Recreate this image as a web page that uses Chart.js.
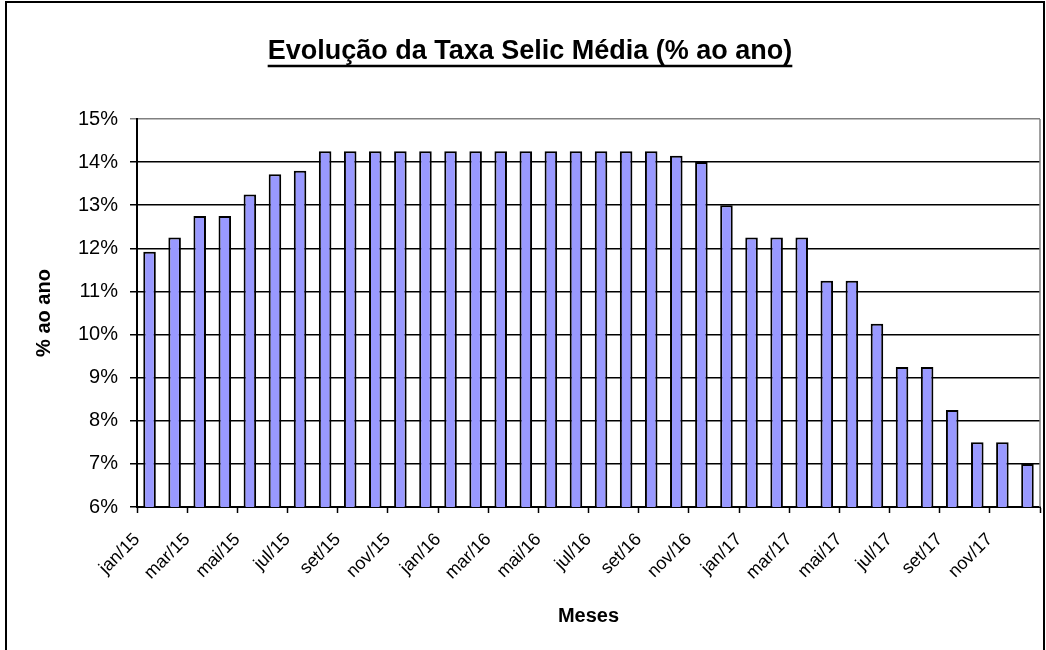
<!DOCTYPE html>
<html>
<head>
<meta charset="utf-8">
<script src="https://cdn.jsdelivr.net/npm/chart.js@4.4.1/dist/chart.umd.min.js"></script>
<style>
  html, body { margin: 0; padding: 0; background: #fff; }
  #wrap { width: 1046px; height: 650px; }
</style>
</head>
<body>
<div id="wrap"><canvas id="selicChart" width="1046" height="650"></canvas></div>
<script>
// meses (eixo x)
const categories = [
  'jan/15', 'fev/15', 'mar/15', 'abr/15', 'mai/15', 'jun/15', 'jul/15', 'ago/15', 'set/15', 'out/15', 'nov/15', 'dez/15',
  'jan/16', 'fev/16', 'mar/16', 'abr/16', 'mai/16', 'jun/16', 'jul/16', 'ago/16', 'set/16', 'out/16', 'nov/16', 'dez/16',
  'jan/17', 'fev/17', 'mar/17', 'abr/17', 'mai/17', 'jun/17', 'jul/17', 'ago/17', 'set/17', 'out/17', 'nov/17', 'dez/17'
];

// taxa selic media, % ao ano
const selic = [
  11.92, 12.25, 12.75, 12.75, 13.25, 13.72, 13.80, 14.25, 14.25, 14.25, 14.25, 14.25,
  14.25, 14.25, 14.25, 14.25, 14.25, 14.25, 14.25, 14.25, 14.25, 14.15, 14.00, 13.00,
  12.25, 12.25, 12.25, 11.25, 11.25, 10.25, 9.25, 9.25, 8.25, 7.50, 7.50, 7.00
];

const yMin = 6;
const yMax = 15;
const yStep = 1;

const titleText = 'Evolução da Taxa Selic Média (% ao ano)';
const FONT = 'Arial, "Liberation Sans", sans-serif';
const TITLE_SIZE = 27;

// fundo branco, titulo sublinhado, moldura e linha cinza da direita do grafico
const framePlugin = {
    id: 'frame',
    beforeDraw(chart) {
        const ctx = chart.ctx;
        ctx.save();
        ctx.fillStyle = '#fff';
        ctx.fillRect(0, 0, chart.width, chart.height);

        ctx.font = 'bold ' + TITLE_SIZE + 'px ' + FONT;
        ctx.fillStyle = '#000';
        ctx.textAlign = 'center';
        ctx.textBaseline = 'alphabetic';
        const cx = 530;
        const baseY = 59;
        ctx.fillText(titleText, cx, baseY);
        const w = ctx.measureText(titleText).width;
        ctx.strokeStyle = '#000';
        ctx.lineWidth = 2.5;
        ctx.beginPath();
        ctx.moveTo(cx - w / 2, baseY + 7);
        ctx.lineTo(cx + w / 2, baseY + 7);
        ctx.stroke();
        ctx.restore();
    },
    beforeDatasetsDraw(chart) {
        const ctx = chart.ctx;
        const a = chart.chartArea;
        ctx.save();
        ctx.strokeStyle = '#808080';
        ctx.lineWidth = 1.5;
        ctx.beginPath();
        ctx.moveTo(a.right, a.top);
        ctx.lineTo(a.right, a.bottom);
        ctx.stroke();
        ctx.restore();
    },
    afterDraw(chart) {
        const ctx = chart.ctx;
        ctx.save();
        ctx.strokeStyle = '#000';
        ctx.lineWidth = 2;
        ctx.beginPath();
        ctx.moveTo(6, chart.height + 5);
        ctx.lineTo(6, 2);
        ctx.lineTo(chart.width - 2, 2);
        ctx.lineTo(chart.width - 2, chart.height + 5);
        ctx.stroke();
        ctx.restore();
    }
};

const ctx = document.getElementById('selicChart').getContext('2d');
const chart = new Chart(ctx, {
    type: 'bar',
    data: {
        labels: categories,
        datasets: [{
            label: 'Selic média',
            data: selic,
            backgroundColor: '#9999ff',
            borderColor: '#000',
            borderWidth: 2,
            barPercentage: 0.5,
            categoryPercentage: 1
        }]
    },
    options: {
        responsive: false,
        animation: false,
        layout: { padding: { left: 8, right: 6, top: 119, bottom: 0 } },
        plugins: {
            legend: { display: false },
            tooltip: { enabled: false },
            title: { display: false }
        },
        scales: {
            x: {
                offset: true,
                grid: {
                    offset: true,
                    drawOnChartArea: false,
                    tickLength: 6,
                    tickWidth: 1.5,
                    tickColor: (c) => (c.index === undefined || c.index % 2 === 0) ? '#000' : 'rgba(0,0,0,0)'
                },
                border: { color: '#000', width: 2 },
                ticks: {
                    autoSkip: false,
                    maxRotation: 45,
                    minRotation: 45,
                    labelOffset: -12.5,
                    padding: 16,
                    color: '#000',
                    font: { family: FONT, size: 18 },
                    callback: (v, i) => (i % 2 === 0 ? categories[i] : '')
                },
                title: {
                    display: true,
                    text: 'Meses',
                    color: '#000',
                    font: { family: FONT, size: 20, weight: 'bold' },
                    padding: { top: 22, bottom: 22 }
                },
                afterFit: (s) => {
                    s.height = 143;
                    s.paddingLeft = 0;
                    s.paddingRight = 0;
                }
            },
            y: {
                min: yMin,
                max: yMax,
                ticks: {
                    stepSize: yStep,
                    color: '#000',
                    padding: 12,
                    font: { family: FONT, size: 20 },
                    callback: (v) => v + '%'
                },
                grid: {
                    color: (c) => (c.tick && c.tick.value === yMax) ? '#808080' : '#000',
                    lineWidth: 1.5,
                    tickLength: 7
                },
                border: { color: '#000', width: 2 },
                title: {
                    display: true,
                    text: '% ao ano',
                    color: '#000',
                    font: { family: FONT, size: 20, weight: 'bold' },
                    padding: { top: 24, bottom: 24 }
                },
                afterFit: (s) => { s.width = 129; }
            }
        }
    },
    plugins: [framePlugin]
});
</script>
</body>
</html>
